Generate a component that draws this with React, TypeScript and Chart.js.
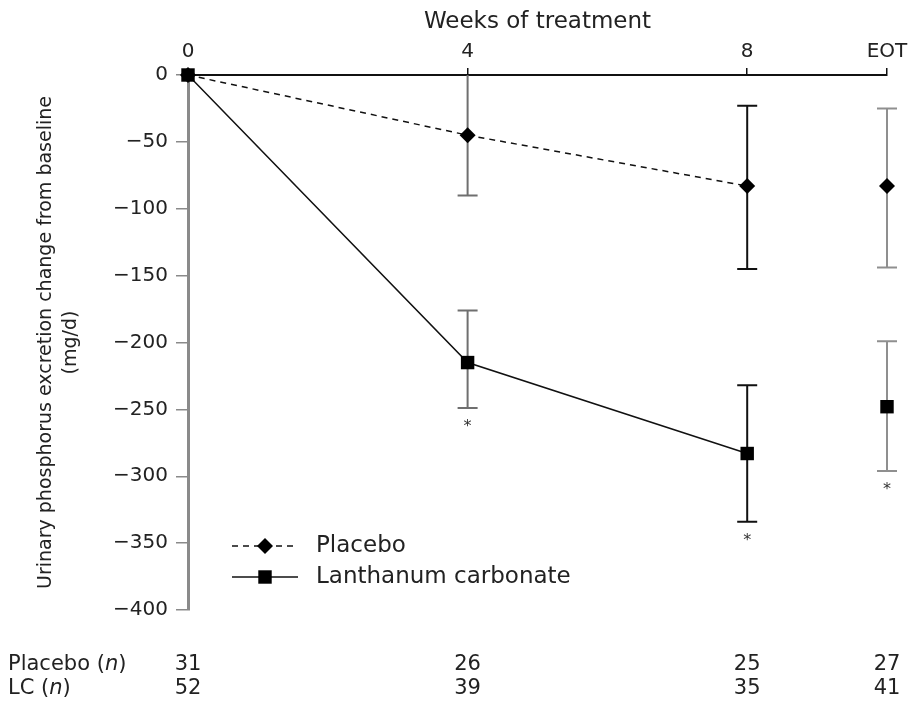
import React, { useEffect, useRef } from 'react';
import { Chart, registerables } from 'chart.js';

Chart.register(...registerables);

// ---- data ----
const xTickValues = [0, 4, 8, 10];
const xTickLabels = ['0', '4', '8', 'EOT'];
const placeboMean = [0, -45, -83, -83];
const placeboLower = [null, -90, -145, -144];
const placeboUpper = [null, 0, -23, -25];
const lcMean = [0, -215, -283, -248];
const lcLower = [null, -249, -334, -296];
const lcUpper = [null, -176, -232, -199];
const lcSignificant = [false, true, true, true];
const placeboN = ['31', '26', '25', '27'];
const lcN = ['52', '39', '35', '41'];
const seriesNames = ['Placebo', 'Lanthanum carbonate'];
const tableRowNames = ['Placebo', 'LC'];

const FONT = '"DejaVu Sans", "Liberation Sans", Arial, sans-serif';
const barColors = ['#000', '#6f6f6f', '#111', '#8f8f8f'];

const overlayPlugin = {
  id: 'overlay',
  beforeDatasetsDraw(chart: any) {
    const { ctx } = chart;
    const xs = chart.scales.x;
    const ys = chart.scales.y;
    const draw = (lower: (number | null)[], upper: (number | null)[]) => {
      xTickValues.forEach((xv, i) => {
        const lo = lower[i];
        const hi = upper[i];
        if (lo === null || hi === null) return;
        const px = xs.getPixelForValue(xv);
        const pl = ys.getPixelForValue(lo);
        const pu = ys.getPixelForValue(hi);
        ctx.save();
        ctx.strokeStyle = barColors[i];
        ctx.lineWidth = 2;
        ctx.beginPath();
        ctx.moveTo(px, pu);
        ctx.lineTo(px, pl);
        ctx.moveTo(px - 10, pl);
        ctx.lineTo(px + 10, pl);
        if (hi < 0) {
          ctx.moveTo(px - 10, pu);
          ctx.lineTo(px + 10, pu);
        }
        ctx.stroke();
        ctx.restore();
      });
    };
    draw(placeboLower, placeboUpper);
    draw(lcLower, lcUpper);
  },
  afterDraw(chart: any) {
    const { ctx } = chart;
    const xs = chart.scales.x;
    const ys = chart.scales.y;
    ctx.save();
    // asterisks
    ctx.fillStyle = '#333';
    ctx.font = `16px ${FONT}`;
    ctx.textAlign = 'center';
    ctx.textBaseline = 'middle';
    xTickValues.forEach((xv, i) => {
      if (!lcSignificant[i] || lcLower[i] === null) return;
      ctx.fillText('*', xs.getPixelForValue(xv), ys.getPixelForValue(lcLower[i] as number) + 19);
    });

    // legend
    const legendX = 232;
    const rows = [
      { y: 546, dash: [6, 5], style: 'rectRot', r: 8 },
      { y: 577, dash: [], style: 'rect', r: 9.5 },
    ];
    rows.forEach((row, k) => {
      ctx.strokeStyle = '#111';
      ctx.lineWidth = 1.5;
      ctx.setLineDash(row.dash);
      ctx.beginPath();
      ctx.moveTo(legendX, row.y);
      ctx.lineTo(legendX + 66, row.y);
      ctx.stroke();
      ctx.setLineDash([]);
      ctx.fillStyle = '#000';
      ctx.beginPath();
      const cx = legendX + 33;
      if (row.style === 'rectRot') {
        ctx.moveTo(cx - row.r, row.y);
        ctx.lineTo(cx, row.y - row.r);
        ctx.lineTo(cx + row.r, row.y);
        ctx.lineTo(cx, row.y + row.r);
        ctx.closePath();
      } else {
        const h = row.r * Math.SQRT1_2;
        ctx.rect(cx - h, row.y - h, 2 * h, 2 * h);
      }
      ctx.fill();
      ctx.fillStyle = '#222';
      ctx.font = `23px ${FONT}`;
      ctx.textAlign = 'left';
      ctx.textBaseline = 'middle';
      ctx.fillText(seriesNames[k], 316, row.y);
    });

    // n table
    const tableRows = [
      { y: 665, values: placeboN },
      { y: 689, values: lcN },
    ];
    tableRows.forEach((row, k) => {
      ctx.fillStyle = '#222';
      ctx.textBaseline = 'middle';
      ctx.textAlign = 'left';
      ctx.font = `21px ${FONT}`;
      let x = 8;
      const part1 = tableRowNames[k] + ' (';
      ctx.fillText(part1, x, row.y);
      x += ctx.measureText(part1).width;
      ctx.font = `italic 21px ${FONT}`;
      ctx.fillText('n', x, row.y);
      x += ctx.measureText('n').width;
      ctx.font = `21px ${FONT}`;
      ctx.fillText(')', x, row.y);
      ctx.textAlign = 'center';
      xTickValues.forEach((xv, i) => {
        ctx.fillText(row.values[i], xs.getPixelForValue(xv), row.y);
      });
    });
    ctx.restore();
  },
};

export default function App() {
  const ref = useRef<HTMLCanvasElement | null>(null);
  useEffect(() => {
    document.body.style.margin = '0';
    const canvas = ref.current;
    if (!canvas) return;
    const toPts = (arr: number[]) => arr.map((y, i) => ({ x: xTickValues[i], y }));
    const hideLast = (color: string) => (c: any) => (c.p1DataIndex === 3 ? 'rgba(0,0,0,0)' : color);
    const chart = new Chart(canvas, {
      type: 'line',
      data: {
        datasets: [
          {
            label: seriesNames[0],
            data: toPts(placeboMean),
            borderColor: '#111',
            borderWidth: 1.5,
            borderDash: [6, 5],
            pointStyle: 'rectRot',
            pointRadius: 8,
            pointBackgroundColor: '#000',
            pointBorderWidth: 0,
            segment: { borderColor: hideLast('#111') },
            clip: false,
          } as any,
          {
            label: seriesNames[1],
            data: toPts(lcMean),
            borderColor: '#111',
            borderWidth: 1.5,
            pointStyle: 'rect',
            pointRadius: 9.5,
            pointBackgroundColor: '#000',
            pointBorderWidth: 0,
            segment: { borderColor: hideLast('#111') },
            clip: false,
          } as any,
        ],
      },
      options: {
        animation: false,
        responsive: false,
        devicePixelRatio: 1,
        layout: { padding: { left: 0, right: 31, top: 0, bottom: 99 } },
        plugins: { legend: { display: false }, tooltip: { enabled: false } },
        scales: {
          x: {
            type: 'linear',
            position: 'top',
            min: 0,
            max: 10,
            afterBuildTicks: (scale: any) => {
              scale.ticks = xTickValues.map((v) => ({ value: v }));
            },
            afterFit: (scale: any) => {
              scale.height = 75;
            },
            ticks: {
              autoSkip: false,
              maxRotation: 0,
              padding: 4,
              color: '#222',
              font: { family: FONT, size: 20 },
              callback: (v: any) => {
                const i = xTickValues.indexOf(Number(v));
                return i >= 0 ? xTickLabels[i] : '';
              },
            },
            grid: { drawOnChartArea: false, drawTicks: true, tickLength: 7, color: '#111', lineWidth: 1.5 },
            border: { display: true, color: '#111', width: 2 },
            title: {
              display: true,
              text: 'Weeks of treatment',
              color: '#222',
              font: { family: FONT, size: 23 },
              padding: { top: 8, bottom: 0 },
            },
          },
          y: {
            type: 'linear',
            position: 'left',
            min: -400,
            max: 0,
            afterFit: (scale: any) => {
              scale.width = 188;
            },
            ticks: {
              stepSize: 50,
              padding: 8,
              color: '#222',
              font: { family: FONT, size: 20 },
              callback: (v: any) => String(v).replace('-', '\u2212'),
            },
            grid: { drawOnChartArea: false, drawTicks: true, tickLength: 12, color: '#8a8a8a', lineWidth: 1.5 },
            border: { display: true, color: '#8a8a8a', width: 3 },
            title: {
              display: true,
              text: ['Urinary phosphorus excretion change from baseline', '(mg/d)'],
              color: '#222',
              font: { family: FONT, size: 19, lineHeight: 1.3 },
              padding: { top: 34, bottom: 0 },
            },
          },
        },
      },
      plugins: [overlayPlugin],
    } as any);
    return () => chart.destroy();
  }, []);
  return <canvas ref={ref} width={918} height={709} style={{ display: 'block' }} />;
}
